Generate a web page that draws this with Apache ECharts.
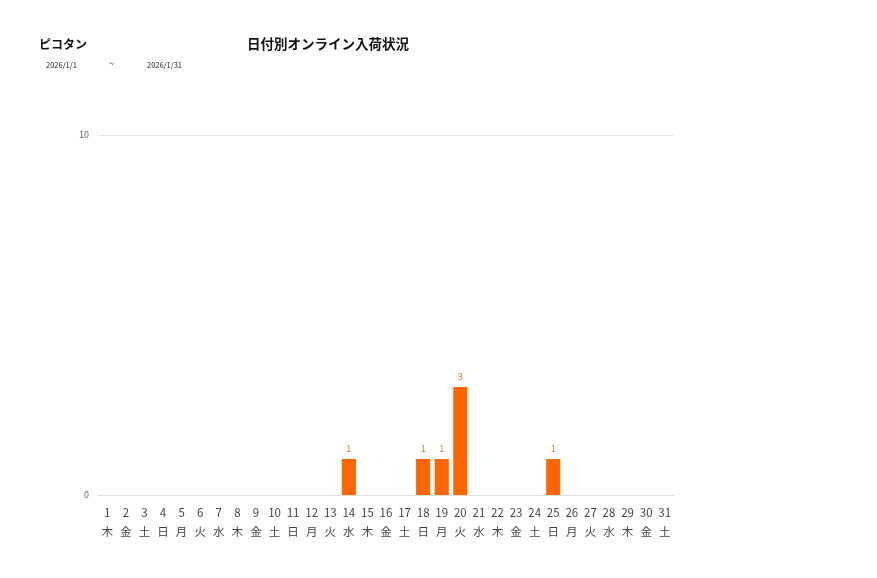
<!DOCTYPE html>
<html><head><meta charset="utf-8">
<script src="https://cdn.jsdelivr.net/npm/echarts@6/dist/echarts.min.js"></script>
<style>html,body{margin:0;padding:0;background:#fff}#c{width:877px;height:578px}</style>
</head><body><div id="c"></div>
<script>
const days = ['1','2','3','4','5','6','7','8','9','10','11','12','13','14','15','16','17','18','19','20','21','22','23','24','25','26','27','28','29','30','31'];
const weekdays = ['木','金','土','日','月','火','水','木','金','土','日','月','火','水','木','金','土','日','月','火','水','木','金','土','日','月','火','水','木','金','土'];
const values = [0,0,0,0,0,0,0,0,0,0,0,0,0,1,0,0,0,1,1,3,0,0,0,0,1,0,0,0,0,0,0];
const yTicks = [0, 10];

const chart = echarts.init(document.getElementById('c'), null, {renderer:'canvas'});
const font = "'Noto Sans CJK JP', 'Noto Sans', sans-serif";
chart.setOption({
  animation:false,
  textStyle:{fontFamily:font},
  title:[
    {text:'ピコタン', left:34, top:33, textStyle:{fontSize:12, fontWeight:'bold', color:'#111', fontFamily:font}},
    {text:'日付別オンライン入荷状況', left:242, top:32, textStyle:{fontSize:13.5, fontWeight:'bold', color:'#111', fontFamily:font}},
    {text:'2026/1/1', left:41, top:56, textStyle:{fontSize:7.5, fontWeight:'normal', color:'#222', fontFamily:font}},
    {text:'~', left:104, top:54, textStyle:{fontSize:9, fontWeight:'normal', color:'#222', fontFamily:font}},
    {text:'2026/1/31', left:142, top:56, textStyle:{fontSize:7.5, fontWeight:'normal', color:'#222', fontFamily:font}}
  ],
  grid:{left:98, right:203, top:135, bottom:83, containLabel:false},
  xAxis:{
    type:'category',
    data:days.map((d,i)=>d+'\n'+weekdays[i]),
    axisLine:{lineStyle:{color:'#ddd'}},
    axisTick:{show:false},
    axisLabel:{interval:0, color:'#444', fontSize:11.5, lineHeight:19, margin:8, fontFamily:font}
  },
  yAxis:{
    type:'value', min:yTicks[0], max:yTicks[1], interval:10,
    axisLine:{show:false}, axisTick:{show:false},
    splitLine:{lineStyle:{color:'#e6e6e6'}},
    axisLabel:{color:'#666', fontSize:9, margin:9, fontFamily:font}
  },
  series:[{
    type:'bar', data:values, barWidth:'76%',
    itemStyle:{color:'#ff6600'},
    label:{show:true, position:'top', color:'#e8782a', fontSize:9, distance:6,
      formatter:p=>p.value>0?p.value:''}
  }]
});
</script></body></html>
